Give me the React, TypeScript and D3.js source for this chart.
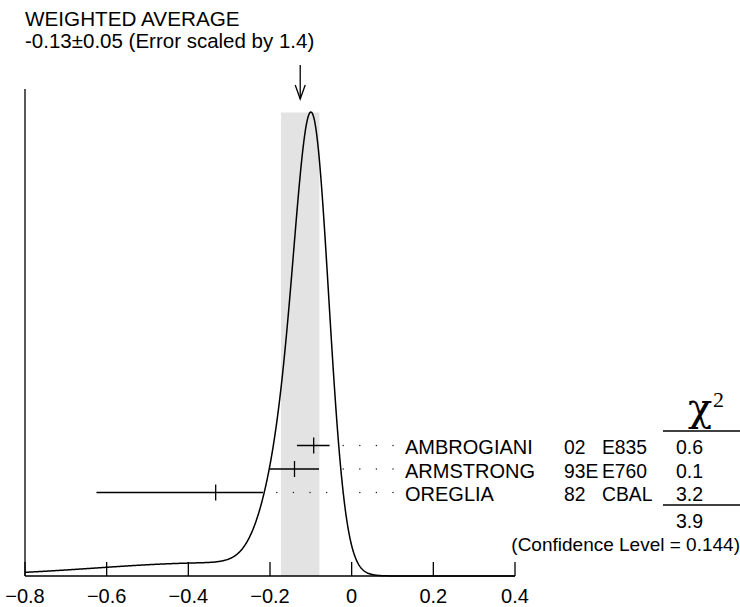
import React from "react";
import * as d3 from "d3";

const labels = ["AMBROGIANI", "ARMSTRONG", "OREGLIA"];
const years = ["02", "93E", "82"];
const experiments = ["E835", "E760", "CBAL"];
const values = [-0.093, -0.14, -0.333];
const errPlus = [0.039, 0.06, 0.116];
const errMinus = [0.041, 0.06, 0.292];
const chi2Values = ["0.6", "0.1", "3.2"];
const chi2Total = "3.9";
const confidenceText = "(Confidence Level = 0.144)";
const avgValue = -0.126;
const avgError = 0.047;
const titleLine1 = "WEIGHTED AVERAGE";
const titleLine2 = "-0.13\u00B10.05 (Error scaled by 1.4)";
const xTicks = [-0.8, -0.6, -0.4, -0.2, 0, 0.2, 0.4];

const W = 740;
const H = 607;
const FONT = "'Liberation Sans', Arial, Helvetica, sans-serif";
const SERIF = "'Liberation Serif', 'Times New Roman', serif";

export default function App() {
  const x = d3.scaleLinear().domain([-0.8, 0.4]).range([25, 515]);
  const axisY = 576;

  // ideogram: sum of (asymmetric) gaussians, height ∝ 1/σ²
  const density = (v: number) => {
    let s = 0;
    for (let i = 0; i < values.length; i++) {
      const sAvg = (errPlus[i] + errMinus[i]) / 2;
      const d = v - values[i];
      const sg = d >= 0 ? errPlus[i] : errMinus[i];
      s += (1 / (sAvg * sAvg)) * Math.exp(-0.5 * (d / sg) * (d / sg));
    }
    return s;
  };
  const samples = d3.range(0, 1201).map((k) => -0.8 + (k * 1.2) / 1200);
  const pts = samples.map((v) => [v, density(v)] as [number, number]);
  const maxD = d3.max(pts, (p) => p[1]) as number;
  const y = d3.scaleLinear().domain([0, maxD]).range([axisY, 112]);
  const line = d3
    .line<[number, number]>()
    .x((p) => x(p[0]))
    .y((p) => y(p[1]));

  const rowY = (i: number) => 445.5 + i * 23.5;
  const textX = 405;
  const dotStep = 16.6;

  return (
    <svg width={W} height={H} style={{ position: "absolute", left: 0, top: 0, background: "#fff" }}>
      <rect x={0} y={0} width={W} height={H} fill="#fff" />
      {/* shaded band */}
      <rect
        x={x(avgValue - avgError)}
        y={112.5}
        width={x(avgValue + avgError) - x(avgValue - avgError)}
        height={axisY - 112.5}
        fill="#e3e3e3"
      />
      {/* axes */}
      <line x1={x(-0.8)} x2={x(-0.8)} y1={89} y2={axisY} stroke="#000" strokeWidth={1.3} />
      <line x1={x(-0.8)} x2={x(0.4)} y1={axisY} y2={axisY} stroke="#000" strokeWidth={1.3} />
      {xTicks.map((t) => (
        <g key={t}>
          <line x1={x(t)} x2={x(t)} y1={axisY - 14} y2={axisY} stroke="#000" strokeWidth={1.3} />
          <text x={x(t)} y={603} textAnchor="middle" fontFamily={FONT} fontSize={20}>
            {t === 0 ? "0" : d3.format(".1f")(t)}
          </text>
        </g>
      ))}
      {/* ideogram curve */}
      <path d={line(pts) || ""} fill="none" stroke="#000" strokeWidth={1.5} />
      {/* arrow */}
      <line x1={x(avgValue)} x2={x(avgValue)} y1={65} y2={99} stroke="#000" strokeWidth={1.3} />
      <polyline
        points={`${x(avgValue) - 5},${85} ${x(avgValue)},${99} ${x(avgValue) + 5},${85}`}
        fill="none"
        stroke="#000"
        strokeWidth={1.3}
      />
      {/* title */}
      <text x={25} y={26} fontFamily={FONT} fontSize={20.7}>{titleLine1}</text>
      <text x={25} y={48} fontFamily={FONT} fontSize={20.5}>{titleLine2}</text>
      {/* measurements */}
      {values.map((v, i) => {
        const yy = rowY(i);
        const x0 = x(v - errMinus[i]);
        const x1 = x(v + errPlus[i]);
        const dots: number[] = [];
        for (let dx = textX - 12; dx > x1 + 10; dx -= dotStep) dots.push(dx);
        return (
          <g key={labels[i]}>
            <line x1={x0} x2={x1} y1={yy} y2={yy} stroke="#000" strokeWidth={1.3} />
            <line x1={x(v)} x2={x(v)} y1={yy - 8} y2={yy + 8} stroke="#000" strokeWidth={1.3} />
            {dots.map((d) => (
              <circle key={d} cx={d} cy={yy} r={0.75} fill="#222" />
            ))}
            <text x={textX} y={yy + 8.5} fontFamily={FONT} fontSize={20}>{labels[i]}</text>
            <text x={564} y={yy + 8.5} fontFamily={FONT} fontSize={19.3}>{years[i]}</text>
            <text x={602} y={yy + 8.5} fontFamily={FONT} fontSize={19.3}>{experiments[i]}</text>
            <text x={703} y={yy + 8.5} textAnchor="end" fontFamily={FONT} fontSize={19.5}>{chi2Values[i]}</text>
          </g>
        );
      })}
      {/* chi2 header */}
      <text x={700} y={421} textAnchor="middle" fontFamily="'DejaVu Serif', serif" fontSize={40}>
        {"\u03C7"}
      </text>
      <text x={713} y={407} fontFamily={SERIF} fontSize={22}>2</text>
      <line x1={663} x2={740} y1={431} y2={431} stroke="#000" strokeWidth={1.3} />
      <line x1={663} x2={740} y1={505} y2={505} stroke="#000" strokeWidth={1.3} />
      <text x={703} y={528} textAnchor="end" fontFamily={FONT} fontSize={19.5}>{chi2Total}</text>
      <text x={740} y={551} textAnchor="end" fontFamily={FONT} fontSize={19}>{confidenceText}</text>
    </svg>
  );
}
